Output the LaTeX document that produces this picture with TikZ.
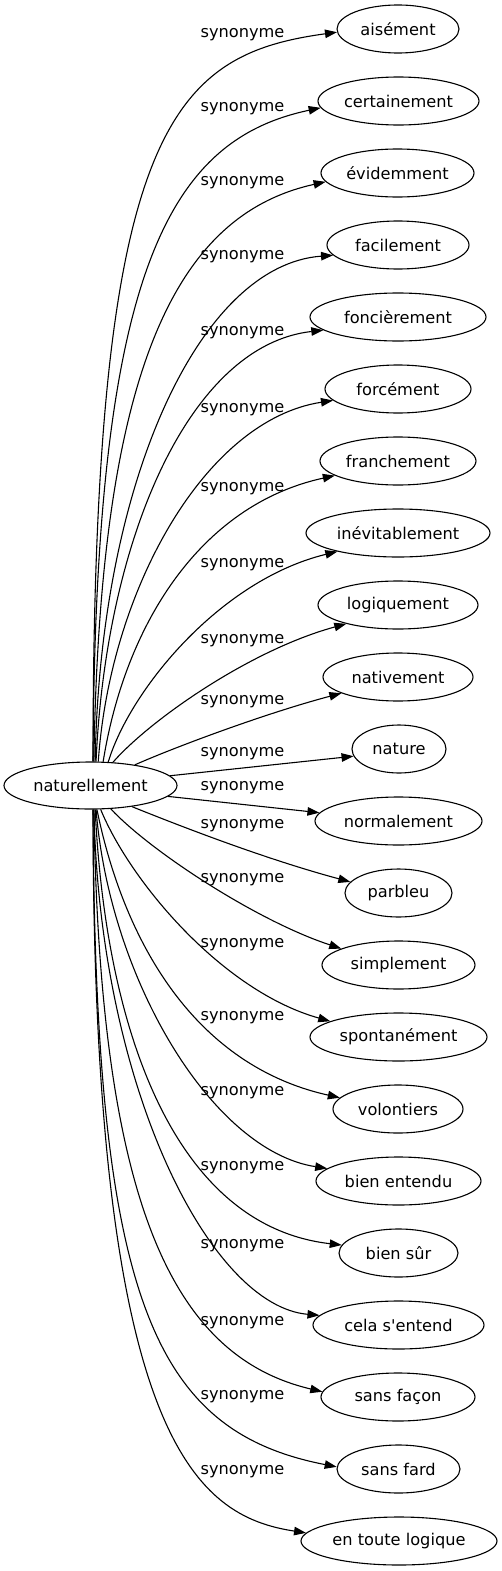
\documentclass[tikz,border=0pt]{standalone}
\usepackage{fontspec}
\setmainfont{DejaVu Sans}[Ligatures=TeXOff]
\usetikzlibrary{arrows.meta,shapes.geometric}
\begin{document}
\begin{tikzpicture}[x=1pt,y=-1pt,
  every node/.style={font=\fontsize{16.2}{19}\selectfont},
  wnode/.style={draw, ellipse, line width=1.1pt, minimum height=48pt, inner sep=0pt},
  slabel/.style={inner sep=0pt},
  sline/.style={draw, line width=1.1pt, -{Triangle[length=12pt,width=8.5pt]}}]
\useasboundingbox (0,0) rectangle (502,1571);
\node[wnode, minimum width=173pt, minimum height=47pt] (nat) at (90.5,785.5) {naturellement};
\node[wnode, minimum width=122pt] (n0) at (398,29) {aisément};
\node[wnode, minimum width=161pt] (n1) at (398.5,101) {certainement};
\node[wnode, minimum width=153pt] (n2) at (397.5,173) {évidemment};
\node[wnode, minimum width=142pt] (n3) at (398,245) {facilement};
\node[wnode, minimum width=176pt] (n4) at (398,317) {foncièrement};
\node[wnode, minimum width=146pt] (n5) at (398,389) {forcément};
\node[wnode, minimum width=156pt] (n6) at (398,461) {franchement};
\node[wnode, minimum width=184pt] (n7) at (398,533) {inévitablement};
\node[wnode, minimum width=160pt] (n8) at (398,605) {logiquement};
\node[wnode, minimum width=150pt] (n9) at (398,677) {nativement};
\node[wnode, minimum width=94pt] (n10) at (399,749) {nature};
\node[wnode, minimum width=167pt] (n11) at (398.5,821) {normalement};
\node[wnode, minimum width=107pt] (n12) at (398.5,893) {parbleu};
\node[wnode, minimum width=153pt] (n13) at (398.5,965) {simplement};
\node[wnode, minimum width=177pt] (n14) at (398.5,1037) {spontanément};
\node[wnode, minimum width=130pt] (n15) at (398,1109) {volontiers};
\node[wnode, minimum width=165pt] (n16) at (398.5,1181) {bien entendu};
\node[wnode, minimum width=119pt] (n17) at (398.5,1253) {bien sûr};
\node[wnode, minimum width=171pt] (n18) at (398.5,1325) {cela s'entend};
\node[wnode, minimum width=154pt] (n19) at (398,1397) {sans façon};
\node[wnode, minimum width=123pt] (n20) at (398.5,1469) {sans fard};
\node[wnode, minimum width=196pt] (n21) at (399,1541) {en toute logique};

\node[slabel] (l0) at (242.5,35) {synonyme};
\node[slabel] (l1) at (242.5,109) {synonyme};
\node[slabel] (l2) at (242.5,183) {synonyme};
\node[slabel] (l3) at (242.5,257) {synonyme};
\node[slabel] (l4) at (242.5,333) {synonyme};
\node[slabel] (l5) at (242.5,410) {synonyme};
\node[slabel] (l6) at (242.5,489) {synonyme};
\node[slabel] (l7) at (242.5,565) {synonyme};
\node[slabel] (l8) at (242.5,641) {synonyme};
\node[slabel] (l9) at (242.5,702) {synonyme};
\node[slabel] (l10) at (242.5,754) {synonyme};
\node[slabel] (l11) at (242.5,788) {synonyme};
\node[slabel] (l12) at (242.5,826) {synonyme};
\node[slabel] (l13) at (242.5,880) {synonyme};
\node[slabel] (l14) at (242.5,945) {synonyme};
\node[slabel] (l15) at (242.5,1018) {synonyme};
\node[slabel] (l16) at (242.5,1093) {synonyme};
\node[slabel] (l17) at (242.5,1168) {synonyme};
\node[slabel] (l18) at (242.5,1246) {synonyme};
\node[slabel] (l19) at (242.5,1323) {synonyme};
\node[slabel] (l20) at (242.5,1397) {synonyme};
\node[slabel] (l21) at (242.5,1472) {synonyme};

\draw[sline] (nat.84) .. controls (93,130) and (170,55) .. (n0.183);
\draw[sline] (nat.84) .. controls (95,272) and (168,140) .. (n1.185);
\draw[sline] (nat.82) .. controls (100,370) and (175,215) .. (n2.187);
\draw[sline] (nat.79) .. controls (100,480) and (200,265) .. (n3.189);
\draw[sline] (nat.77) .. controls (106,537) and (190,345) .. (n4.190);
\draw[sline] (nat.72) .. controls (110,590) and (205,420) .. (n5.190);
\draw[sline] (nat.62) .. controls (125,625) and (200,505) .. (n6.193);
\draw[sline] (nat.53) .. controls (130,690) and (220,580) .. (n7.197);
\draw[sline] (nat.46) .. controls (150,720) and (250,650) .. (n8.200);
\draw[sline] (nat.25) .. controls (180,745) and (270,712) .. (n9.196);
\draw[sline] (nat.7) -- (n10.189);
\draw[sline] (nat.352) -- (n11.174);
\draw[sline] (nat.333) .. controls (180,826) and (265,859) .. (n12.167);
\draw[sline] (nat.311) .. controls (150,851) and (257,921) .. (n13.164);
\draw[sline] (nat.293) .. controls (130,881) and (222,991) .. (n14.167);
\draw[sline] (nat.285) .. controls (125,946) and (197,1066) .. (n15.169);
\draw[sline] (nat.283) .. controls (110,981) and (213,1151) .. (n16.170);
\draw[sline] (nat.281) .. controls (106,1034) and (176,1226) .. (n17.172);
\draw[sline] (nat.278) .. controls (100,1091) and (211,1306) .. (n18.173);
\draw[sline] (nat.278) .. controls (100,1201) and (171,1356) .. (n19.176);
\draw[sline] (nat.276) .. controls (95,1299) and (153,1431) .. (n20.178);
\draw[sline] (nat.276) .. controls (93,1441) and (196,1516) .. (n21.175);
\end{tikzpicture}
\end{document}
